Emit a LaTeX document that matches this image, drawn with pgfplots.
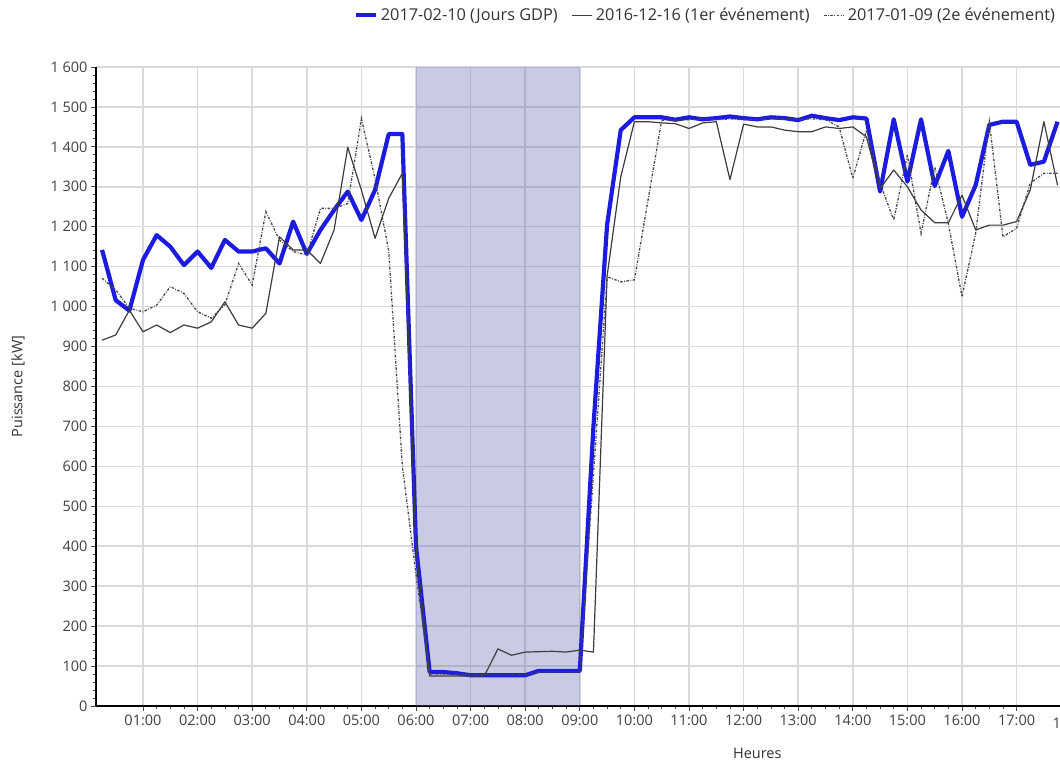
\documentclass[border=0pt]{standalone}
\usepackage{fontspec}
\setmainfont{Open Sans}
\usepackage{pgfplots}
\usepackage{pgfplotstable}
\pgfplotsset{compat=1.18}

\definecolor{gdpblue}{RGB}{28,28,225}
\definecolor{darkline}{RGB}{60,60,60}
\definecolor{dashline}{RGB}{70,70,70}
\definecolor{shadecol}{RGB}{89,97,169}
\definecolor{gridcol}{RGB}{218,218,218}

\pgfplotstableread{
t B K D
0.25 1142 916 1071
0.5 1016 929 1042
0.75 990 991 996
1.0 1117 937 987
1.25 1179 954 1004
1.5 1150 935 1050
1.75 1104 954 1033
2.0 1138 946 987
2.25 1097 962 971
2.5 1167 1012 1005
2.75 1138 954 1108
3.0 1138 946 1054
3.25 1146 983 1238
3.5 1108 1175 1167
3.75 1213 1142 1138
4.0 1132 1142 1129
4.25 1192 1108 1246
4.5 1242 1192 1246
4.75 1288 1399 1258
5.0 1217 1292 1471
5.25 1292 1171 1320
5.5 1432 1271 1140
5.75 1432 1334 600
6.0 400 400 330
6.25 85 75 80
6.5 85 75 80
6.75 82 75 80
7.0 77 75 78
7.25 77 75 78
7.5 77 143 78
7.75 77 127 78
8.0 77 135 78
8.25 88 136 85
8.5 88 137 85
8.75 88 135 85
9.0 88 140 85
9.25 700 135 580
9.5 1205 1077 1075
9.75 1442 1325 1062
10.0 1474 1463 1067
10.25 1474 1463 1267
10.5 1474 1460 1467
10.75 1468 1458 1465
11.0 1474 1446 1468
11.25 1469 1460 1470
11.5 1472 1463 1468
11.75 1476 1318 1470
12.0 1472 1457 1468
12.25 1469 1450 1468
12.5 1474 1450 1470
12.75 1472 1442 1470
13.0 1467 1438 1470
13.25 1478 1438 1470
13.5 1472 1450 1468
13.75 1467 1446 1450
14.0 1474 1450 1321
14.25 1471 1425 1442
14.5 1288 1296 1309
14.75 1469 1342 1217
15.0 1313 1300 1380
15.25 1469 1242 1183
15.5 1302 1210 1350
15.75 1390 1210 1208
16.0 1225 1279 1025
16.25 1304 1192 1183
16.5 1455 1204 1463
16.75 1463 1204 1175
17.0 1463 1213 1196
17.25 1355 1292 1309
17.5 1363 1463 1334
17.75 1463 1304 1334
}\datatable

\begin{document}
\begin{tikzpicture}
\begin{axis}[
  scale only axis,
  width=964pt, height=639pt,
  xmin=0.139, xmax=17.795,
  ymin=0, ymax=1600,
  axis x line*=bottom,
  axis y line*=left,
  axis line style={line width=2.2pt, black, -},
  xtick={1,2,...,17},
  xticklabels={01:00,02:00,03:00,04:00,05:00,06:00,07:00,08:00,09:00,10:00,11:00,12:00,13:00,14:00,15:00,16:00,17:00},
  minor x tick num=3,
  ytick distance=100,
  minor y tick num=4,
  tick align=outside,
  major tick length=5pt,
  minor tick length=3pt,
  tick style={black!70, line width=0.8pt},
  grid=major,
  major grid style={line width=1.5pt, gridcol},
  ticklabel style={font=\fontsize{14.5}{16}\selectfont, text=black!75},
  /pgf/number format/assume math mode=true,
  /pgf/number format/1000 sep={\ },
  xlabel={Heures},
  ylabel={Puissance [kW]},
  label style={font=\fontsize{14.5}{16}\selectfont, text=black!80},
  xlabel style={at={(axis description cs:0.686,0)}, anchor=center, yshift=-47pt},
  ylabel style={at={(axis description cs:-0.081,0.5)}, anchor=center},
  legend columns=3,
  legend style={at={(rel axis cs:1,1.081)}, anchor=east, draw=none, fill=none,
    font=\fontsize{16.3}{18}\selectfont, text=black!80,
    /tikz/every odd column/.append style={column sep=1pt},
    /tikz/every even column/.append style={column sep=12pt}},
  legend image code/.code={\draw[#1] (0pt,0pt) -- (20pt,0pt);},
  clip mode=individual,
]
\addplot[draw=none, fill=shadecol, fill opacity=0.33, forget plot]
  coordinates {(6,0) (6,1600) (9,1600) (9,0)} -- cycle;
\addplot[gdpblue, line width=4.2pt, line join=round] table[x=t, y=B] {\datatable};
\addlegendentry{2017-02-10 (Jours GDP)}
\addplot[darkline, line width=1.2pt, line join=round] table[x=t, y=K] {\datatable};
\addlegendentry{2016-12-16 (1er événement)}
\addplot[dashline, line width=1.3pt, dash pattern=on 2.5pt off 1.5pt on 0.8pt off 1.5pt] table[x=t, y=D] {\datatable};
\addlegendentry{2017-01-09 (2e événement)}
\node[anchor=north, font=\fontsize{14.5}{16}\selectfont, text=black!75, yshift=-8pt] at (axis cs:18,0) {18:00};
\coordinate (SW) at (rel axis cs:0,0);
\coordinate (NE) at (rel axis cs:1,1);
\end{axis}
\pgfresetboundingbox
\path[use as bounding box] ([shift={(-96pt,-57pt)}]SW) rectangle ([shift={(0pt,67pt)}]NE);
\end{tikzpicture}
\end{document}
